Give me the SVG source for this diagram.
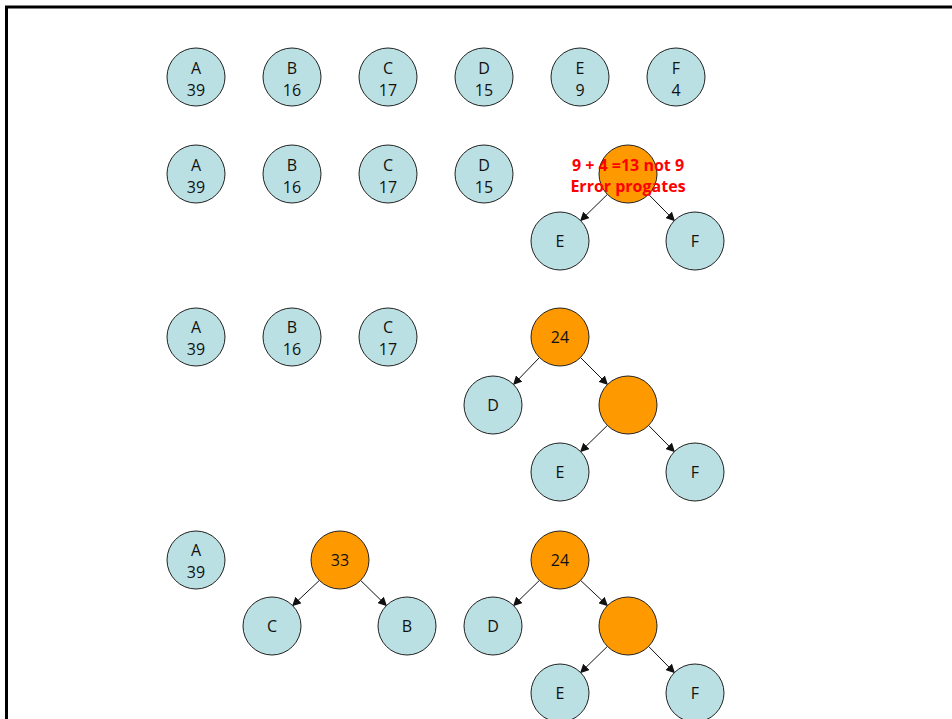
<svg xmlns="http://www.w3.org/2000/svg" width="952" height="719" viewBox="0 0 952 719">
<style>
.n{fill:#bbe0e3;stroke:#222;stroke-width:1}
.o{fill:#ff9900;stroke:#222;stroke-width:1}
.t{font-family:"Open Sans","Liberation Sans",sans-serif;font-size:16px;fill:#111;text-anchor:middle}
.e{stroke:#111;stroke-width:1;fill:none;marker-end:url(#ah)}
.r{font-family:"Open Sans","Liberation Sans",sans-serif;font-size:16px;font-weight:bold;fill:#ff0000;text-anchor:middle}
</style>
<defs>
<marker id="ah" viewBox="0 0 10 10" refX="9" refY="5" markerWidth="9" markerHeight="9" markerUnits="userSpaceOnUse" orient="auto">
<path d="M0,0 L10,5 L0,10 z" fill="#111"/>
</marker>
</defs>
<rect width="952" height="719" fill="#fff"/>
<path d="M6.5,719 V7 H952" fill="none" stroke="#000" stroke-width="3"/>
<g id="connectors">
<line class="e" x1="607.4" y1="194.4" x2="580.6" y2="220.6"/>
<line class="e" x1="648.6" y1="194.4" x2="674.4" y2="220.6"/>
<line class="e" x1="539.4" y1="357.6" x2="513.6" y2="384.4"/>
<line class="e" x1="580.6" y1="357.6" x2="607.4" y2="384.4"/>
<line class="e" x1="607.4" y1="425.4" x2="580.6" y2="451.6"/>
<line class="e" x1="648.6" y1="425.4" x2="674.4" y2="451.6"/>
<line class="e" x1="319.4" y1="580.4" x2="292.6" y2="605.6"/>
<line class="e" x1="360.6" y1="580.4" x2="386.4" y2="605.6"/>
<line class="e" x1="539.4" y1="580.4" x2="513.6" y2="605.6"/>
<line class="e" x1="580.6" y1="580.4" x2="607.4" y2="605.6"/>
<line class="e" x1="607.4" y1="646.4" x2="580.6" y2="672.6"/>
<line class="e" x1="648.6" y1="646.4" x2="674.4" y2="672.6"/>
</g>
<g id="r1A"><circle class="n" cx="196" cy="77" r="29"/><text class="t" x="196" y="74">A</text><text class="t" x="196" y="96">39</text></g>
<g id="r1B"><circle class="n" cx="292" cy="77" r="29"/><text class="t" x="292" y="74">B</text><text class="t" x="292" y="96">16</text></g>
<g id="r1C"><circle class="n" cx="388" cy="77" r="29"/><text class="t" x="388" y="74">C</text><text class="t" x="388" y="96">17</text></g>
<g id="r1D"><circle class="n" cx="484" cy="77" r="29"/><text class="t" x="484" y="74">D</text><text class="t" x="484" y="96">15</text></g>
<g id="r1E"><circle class="n" cx="580" cy="77" r="29"/><text class="t" x="580" y="74">E</text><text class="t" x="580" y="96">9</text></g>
<g id="r1F"><circle class="n" cx="676" cy="77" r="29"/><text class="t" x="676" y="74">F</text><text class="t" x="676" y="96">4</text></g>

<g id="r2A"><circle class="n" cx="196" cy="174" r="29"/><text class="t" x="196" y="171">A</text><text class="t" x="196" y="193">39</text></g>
<g id="r2B"><circle class="n" cx="292" cy="174" r="29"/><text class="t" x="292" y="171">B</text><text class="t" x="292" y="193">16</text></g>
<g id="r2C"><circle class="n" cx="388" cy="174" r="29"/><text class="t" x="388" y="171">C</text><text class="t" x="388" y="193">17</text></g>
<g id="r2D"><circle class="n" cx="484" cy="174" r="29"/><text class="t" x="484" y="171">D</text><text class="t" x="484" y="193">15</text></g>
<g id="r2EF"><circle class="o" cx="628" cy="174" r="29"/></g>
<g id="r2E"><circle class="n" cx="560" cy="241" r="29"/><text class="t" x="560" y="247">E</text></g>
<g id="r2F"><circle class="n" cx="695" cy="241" r="29"/><text class="t" x="695" y="247">F</text></g>
<g id="note"><text class="r" x="628" y="171">9 + 4 =13 not 9</text><text class="r" x="628" y="192">Error progates</text></g>

<g id="r3A"><circle class="n" cx="196" cy="337" r="29"/><text class="t" x="196" y="333">A</text><text class="t" x="196" y="355">39</text></g>
<g id="r3B"><circle class="n" cx="292" cy="337" r="29"/><text class="t" x="292" y="333">B</text><text class="t" x="292" y="355">16</text></g>
<g id="r3C"><circle class="n" cx="388" cy="337" r="29"/><text class="t" x="388" y="333">C</text><text class="t" x="388" y="355">17</text></g>
<g id="r3DEF"><circle class="o" cx="560" cy="337" r="29"/><text class="t" x="560" y="343">24</text></g>
<g id="r3D"><circle class="n" cx="493" cy="405" r="29"/><text class="t" x="493" y="411">D</text></g>
<g id="r3EF"><circle class="o" cx="628" cy="405" r="29"/></g>
<g id="r3E"><circle class="n" cx="560" cy="472" r="29"/><text class="t" x="560" y="478">E</text></g>
<g id="r3F"><circle class="n" cx="695" cy="472" r="29"/><text class="t" x="695" y="478">F</text></g>

<g id="r4A"><circle class="n" cx="196" cy="560" r="29"/><text class="t" x="196" y="556">A</text><text class="t" x="196" y="578">39</text></g>
<g id="r4CB"><circle class="o" cx="340" cy="560" r="29"/><text class="t" x="340" y="566">33</text></g>
<g id="r4C"><circle class="n" cx="272" cy="626" r="29"/><text class="t" x="272" y="632">C</text></g>
<g id="r4B"><circle class="n" cx="407" cy="626" r="29"/><text class="t" x="407" y="632">B</text></g>
<g id="r4DEF"><circle class="o" cx="560" cy="560" r="29"/><text class="t" x="560" y="566">24</text></g>
<g id="r4D"><circle class="n" cx="493" cy="626" r="29"/><text class="t" x="493" y="632">D</text></g>
<g id="r4EF"><circle class="o" cx="628" cy="626" r="29"/></g>
<g id="r4E"><circle class="n" cx="560" cy="693" r="29"/><text class="t" x="560" y="699">E</text></g>
<g id="r4F"><circle class="n" cx="695" cy="693" r="29"/><text class="t" x="695" y="699">F</text></g>
</svg>
